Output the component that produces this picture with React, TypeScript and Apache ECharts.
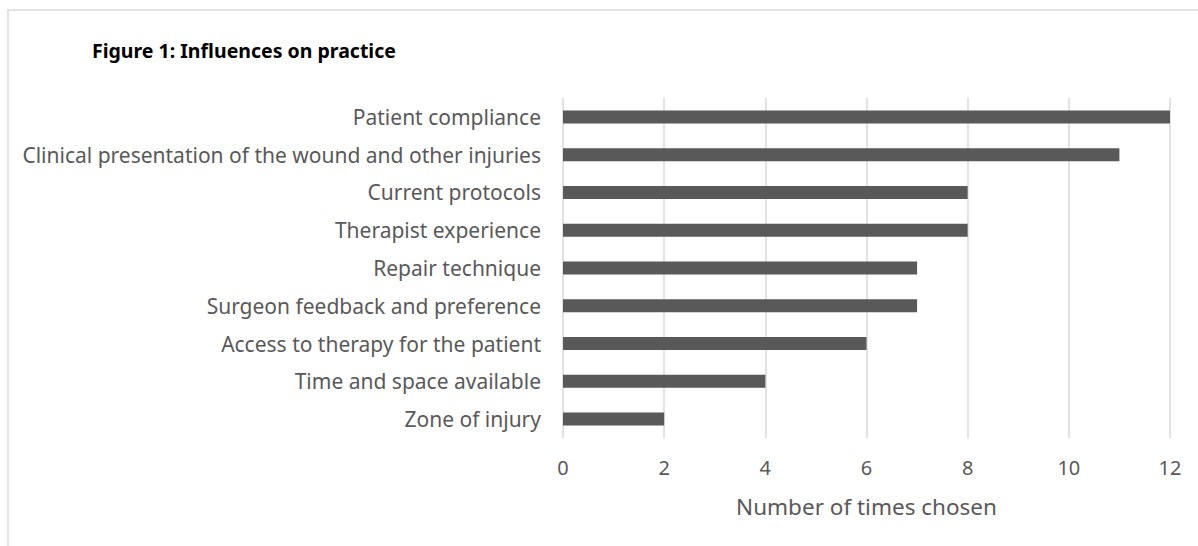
import React, { useEffect, useRef } from "react";
import * as echarts from "echarts";

const categories = [
  "Patient compliance",
  "Clinical presentation of the wound and other injuries",
  "Current protocols",
  "Therapist experience",
  "Repair technique",
  "Surgeon feedback and preference",
  "Access to therapy for the patient",
  "Time and space available",
  "Zone of injury",
];
const values = [12, 11, 8, 8, 7, 7, 6, 4, 2];
const xTicks = [0, 2, 4, 6, 8, 10, 12];

export default function App() {
  const ref = useRef<HTMLDivElement>(null);
  useEffect(() => {
    document.body.style.margin = "0";
    const chart = echarts.init(ref.current!, null, { renderer: "svg" });
    const font = "'Noto Sans', 'Open Sans', sans-serif";
    chart.setOption({
      animation: false,
      backgroundColor: "#ffffff",
      textStyle: { fontFamily: font },
      graphic: [
        {
          type: "rect",
          shape: { x: 8, y: 10, width: 1400, height: 800 },
          style: { fill: "none", stroke: "#d9d9d9", lineWidth: 1.5 },
          silent: true,
        },
        {
          type: "text",
          left: 92,
          top: 40,
          style: {
            text: "Figure 1: Influences on practice",
            fontFamily: font,
            fontWeight: "bold",
            fontSize: 19.5,
            fill: "#000000",
          },
        },
      ],
      grid: { left: 563, right: 28, top: 98, height: 340 },
      xAxis: {
        type: "value",
        min: xTicks[0],
        max: xTicks[xTicks.length - 1],
        interval: 2,
        axisLine: { show: false },
        axisTick: { show: false },
        axisLabel: { color: "#595959", fontSize: 20, margin: 19, fontFamily: font },
        splitLine: { show: true, lineStyle: { color: "#d9d9d9", width: 1.5 } },
        name: "Number of times chosen",
        nameLocation: "middle",
        nameGap: 57,
        nameTextStyle: { color: "#595959", fontSize: 22.5, fontFamily: font },
      },
      yAxis: {
        type: "category",
        data: categories,
        inverse: true,
        axisLine: { show: false },
        axisTick: { show: false },
        axisLabel: { color: "#595959", fontSize: 21, margin: 22, fontFamily: font },
      },
      series: [
        {
          type: "bar",
          data: values,
          barWidth: 13,
          itemStyle: { color: "#595959" },
        },
      ],
    });
    return () => chart.dispose();
  }, []);
  return <div ref={ref} style={{ position: "fixed", left: 0, top: 0, width: 1198, height: 546 }} />;
}
